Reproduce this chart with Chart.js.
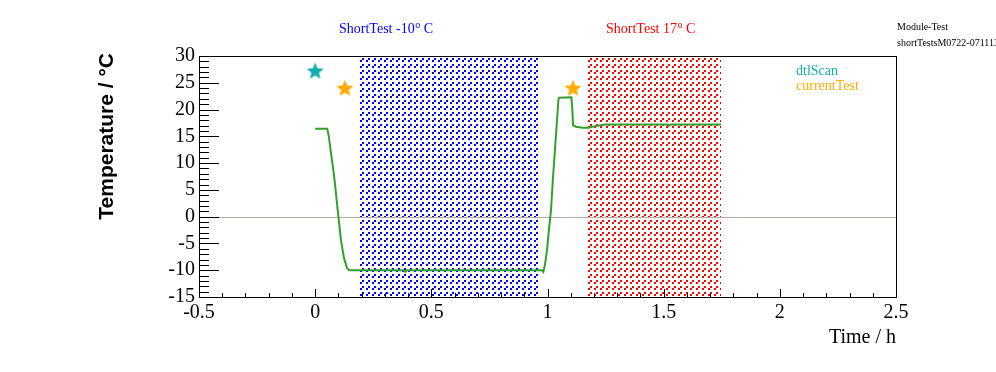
<!DOCTYPE html>
<html><head><meta charset="utf-8">
<script src="https://cdn.jsdelivr.net/npm/chart.js@4/dist/chart.umd.min.js"></script>
<style>html,body{margin:0;padding:0;background:#fff;}canvas{display:block;}</style>
</head><body>
<canvas id="c" width="996" height="372"></canvas>
<script>
// ---- data ----
const timeH = [0, 0.052, 0.059, 0.068, 0.081, 0.09, 0.1, 0.111, 0.124, 0.137, 0.146, 0.3, 0.38, 0.388, 0.395, 0.6, 0.8, 0.976, 0.982, 0.989, 0.998, 1.006, 1.015, 1.023, 1.032, 1.041, 1.047, 1.05, 1.103, 1.107, 1.11, 1.122, 1.153, 1.178, 1.204, 1.247, 1.4, 1.515, 1.52, 1.53, 1.747];
const tempC = [16.4, 16.4, 14.9, 11.9, 7.8, 4.1, 0, -4.4, -7.7, -9.6, -10.0, -10.0, -10.0, -10.3, -10.0, -10.0, -10.0, -10.0, -10.3, -9.0, -6.2, -2.5, 1.2, 6.9, 12.5, 18.0, 21.8, 22.2, 22.3, 19.9, 17.1, 16.8, 16.6, 16.6, 16.9, 17.2, 17.2, 17.2, 16.9, 17.2, 17.2];
const dtlScanTime = [0.0];
const dtlScanTemp = [27.2];
const currentTestTime = [0.128, 1.110];
const currentTestTemp = [24.0, 24.0];
const coldBand = [0.184, 0.963];
const warmBand = [1.166, 1.747];
const xTicks = [-0.5, 0, 0.5, 1, 1.5, 2, 2.5];
const xTickLabels = ['-0.5', '0', '0.5', '1', '1.5', '2', '2.5'];
const yTicks = [-15, -10, -5, 0, 5, 10, 15, 20, 25, 30];
const yTickLabels = ['-15', '-10', '-5', '0', '5', '10', '15', '20', '25', '30'];
const coldLabel = ['ShortTest -10', 'o', ' C'];
const warmLabel = ['ShortTest 17', 'o', ' C'];
const legendNames = ['dtlScan', 'currentTest'];
const headerLines = ['Module-Test', 'shortTestsM0722-071113'];

// ---- styles ----
const GREEN = '#33a02c';
const TEAL = '#14adad';
const ORANGE = '#ffaa00';
const SERIF = '"Liberation Serif", "Times New Roman", serif';

function makeStar(color) {
  const c = document.createElement('canvas');
  c.width = 19; c.height = 19;
  const g = c.getContext('2d');
  g.fillStyle = color;
  g.beginPath();
  for (let i = 0; i < 10; i++) {
    const r = i % 2 === 0 ? 9 : 4;
    const a = -Math.PI / 2 + i * Math.PI / 5;
    const px = 9.5 + r * Math.cos(a), py = 10 + r * Math.sin(a);
    if (i === 0) g.moveTo(px, py); else g.lineTo(px, py);
  }
  g.closePath();
  g.fill();
  return c;
}
// diagonal dashed hatch made of 2x2 cells aligned to even pixels
function hatchRect(ctx, color, x0, y0, x1, y1) {
  ctx.save();
  ctx.beginPath();
  ctx.rect(x0, y0, x1 - x0, y1 - y0);
  ctx.clip();
  ctx.fillStyle = color;
  const sx = x0 - (x0 % 2), sy = y0 - (y0 % 2);
  for (let py = sy; py < y1; py += 2) {
    for (let px = sx; px < x1; px += 2) {
      const i = px / 2, j = py / 2;
      if ((i + j) % 3 === 0 && i % 3 !== 2) ctx.fillRect(px, py, 2, 2);
    }
  }
  ctx.restore();
}

const decor = {
  id: 'decor',
  beforeDatasetsDraw(chart) {
    const { ctx, chartArea: a, scales: { x, y } } = chart;
    ctx.save();
    const bands = [[coldBand, 'rgb(0,0,255)'], [warmBand, 'rgb(255,0,0)']];
    bands.forEach(([b, col]) => {
      const x0 = Math.round(x.getPixelForValue(b[0])), x1 = Math.round(x.getPixelForValue(b[1]));
      hatchRect(ctx, col, x0, Math.round(a.top) + 1, x1, Math.round(a.bottom));
    });
    const y0 = Math.round(y.getPixelForValue(0)) + 0.5;
    ctx.strokeStyle = '#b4aba2';
    ctx.lineWidth = 1;
    ctx.beginPath(); ctx.moveTo(a.left, y0); ctx.lineTo(a.right, y0); ctx.stroke();
    ctx.restore();
  },
  afterDraw(chart) {
    const { ctx, chartArea: a, scales: { x, y } } = chart;
    ctx.save();
    ctx.strokeStyle = '#000';
    ctx.lineWidth = 1;
    ctx.strokeRect(Math.round(a.left) + 0.5, Math.round(a.top) + 0.5, Math.round(a.right - a.left), Math.round(a.bottom - a.top));
    ctx.beginPath();
    for (let i = 0; i <= 30; i++) {
      const v = -0.5 + i * 0.1;
      const px = Math.round(x.getPixelForValue(v)) + 0.5;
      const len = (i % 5 === 0) ? 8 : 4;
      ctx.moveTo(px, a.bottom); ctx.lineTo(px, a.bottom - len);
    }
    for (let i = 0; i <= 45; i++) {
      const v = -15 + i;
      const py = Math.round(y.getPixelForValue(v)) + 0.5;
      const len = (i % 5 === 0) ? 20 : 10;
      ctx.moveTo(a.left, py); ctx.lineTo(a.left + len, py);
    }
    ctx.stroke();

    ctx.fillStyle = '#000';
    ctx.font = '20px ' + SERIF;
    ctx.textAlign = 'right';
    ctx.textBaseline = 'alphabetic';
    ctx.fillText('Time / h', a.right, 343);
    ctx.save();
    ctx.translate(113, 53);
    ctx.rotate(-Math.PI / 2);
    ctx.font = 'bold 21px "Liberation Sans", Arial, sans-serif';
    ctx.textAlign = 'right';
    ctx.fillText('Temperature / \u00B0C', 0, 0);
    ctx.restore();

    function supText(parts, left, base, color) {
      ctx.fillStyle = color;
      ctx.textAlign = 'left';
      ctx.font = '14px ' + SERIF;
      ctx.fillText(parts[0], left, base);
      let cx = left + ctx.measureText(parts[0]).width;
      ctx.font = '10px ' + SERIF;
      ctx.fillText(parts[1], cx + 0.5, base - 5);
      cx += ctx.measureText(parts[1]).width + 0.5;
      ctx.font = '14px ' + SERIF;
      ctx.fillText(parts[2], cx, base);
    }
    supText(coldLabel, 339, 33, '#0000ff');
    supText(warmLabel, 606, 33, '#ff0000');

    ctx.font = '14px ' + SERIF;
    ctx.textAlign = 'left';
    ctx.fillStyle = TEAL;
    ctx.fillText(legendNames[0], 796, 75);
    ctx.fillStyle = ORANGE;
    ctx.fillText(legendNames[1], 796, 90);

    ctx.fillStyle = '#000';
    ctx.font = '10px ' + SERIF;
    ctx.fillText(headerLines[0], 897, 30);
    ctx.fillText(headerLines[1], 897, 46);
    ctx.restore();
  }
};

new Chart(document.getElementById('c'), {
  type: 'scatter',
  data: {
    datasets: [
      {
        label: 'temperature',
        data: timeH.map((t, i) => ({ x: t, y: tempC[i] })),
        showLine: true,
        borderColor: GREEN,
        borderWidth: 2,
        pointRadius: 0,
        tension: 0,
        order: 3
      },
      {
        label: legendNames[0],
        data: dtlScanTime.map((t, i) => ({ x: t, y: dtlScanTemp[i] })),
        pointStyle: makeStar(TEAL),
        showLine: false,
        order: 1
      },
      {
        label: legendNames[1],
        data: currentTestTime.map((t, i) => ({ x: t, y: currentTestTemp[i] })),
        pointStyle: makeStar(ORANGE),
        showLine: false,
        order: 2
      }
    ]
  },
  options: {
    responsive: false,
    devicePixelRatio: 1,
    animation: false,
    layout: { padding: { left: 0, right: 100, top: 56, bottom: 0 } },
    plugins: { legend: { display: false }, tooltip: { enabled: false } },
    scales: {
      x: {
        type: 'linear', min: -0.5, max: 2.5,
        afterBuildTicks: s => { s.ticks = xTicks.map(v => ({ value: v })); },
        afterFit: s => { s.height = 75; },
        grid: { display: false, drawTicks: false },
        border: { display: true, color: '#000', width: 1 },
        ticks: {
          autoSkip: false, maxRotation: 0, padding: 4, color: '#000',
          font: { family: SERIF, size: 20 },
          callback: v => { const i = xTicks.indexOf(v); return i >= 0 ? xTickLabels[i] : ''; }
        }
      },
      y: {
        type: 'linear', min: -15, max: 30,
        afterBuildTicks: s => { s.ticks = yTicks.map(v => ({ value: v })); },
        afterFit: s => { s.width = 199; },
        grid: { display: false, drawTicks: false },
        border: { display: true, color: '#000', width: 1 },
        ticks: {
          autoSkip: false, padding: 4, color: '#000',
          font: { family: SERIF, size: 20 },
          callback: v => { const i = yTicks.indexOf(v); return i >= 0 ? yTickLabels[i] : ''; }
        }
      }
    }
  },
  plugins: [decor]
});
</script>
</body></html>
